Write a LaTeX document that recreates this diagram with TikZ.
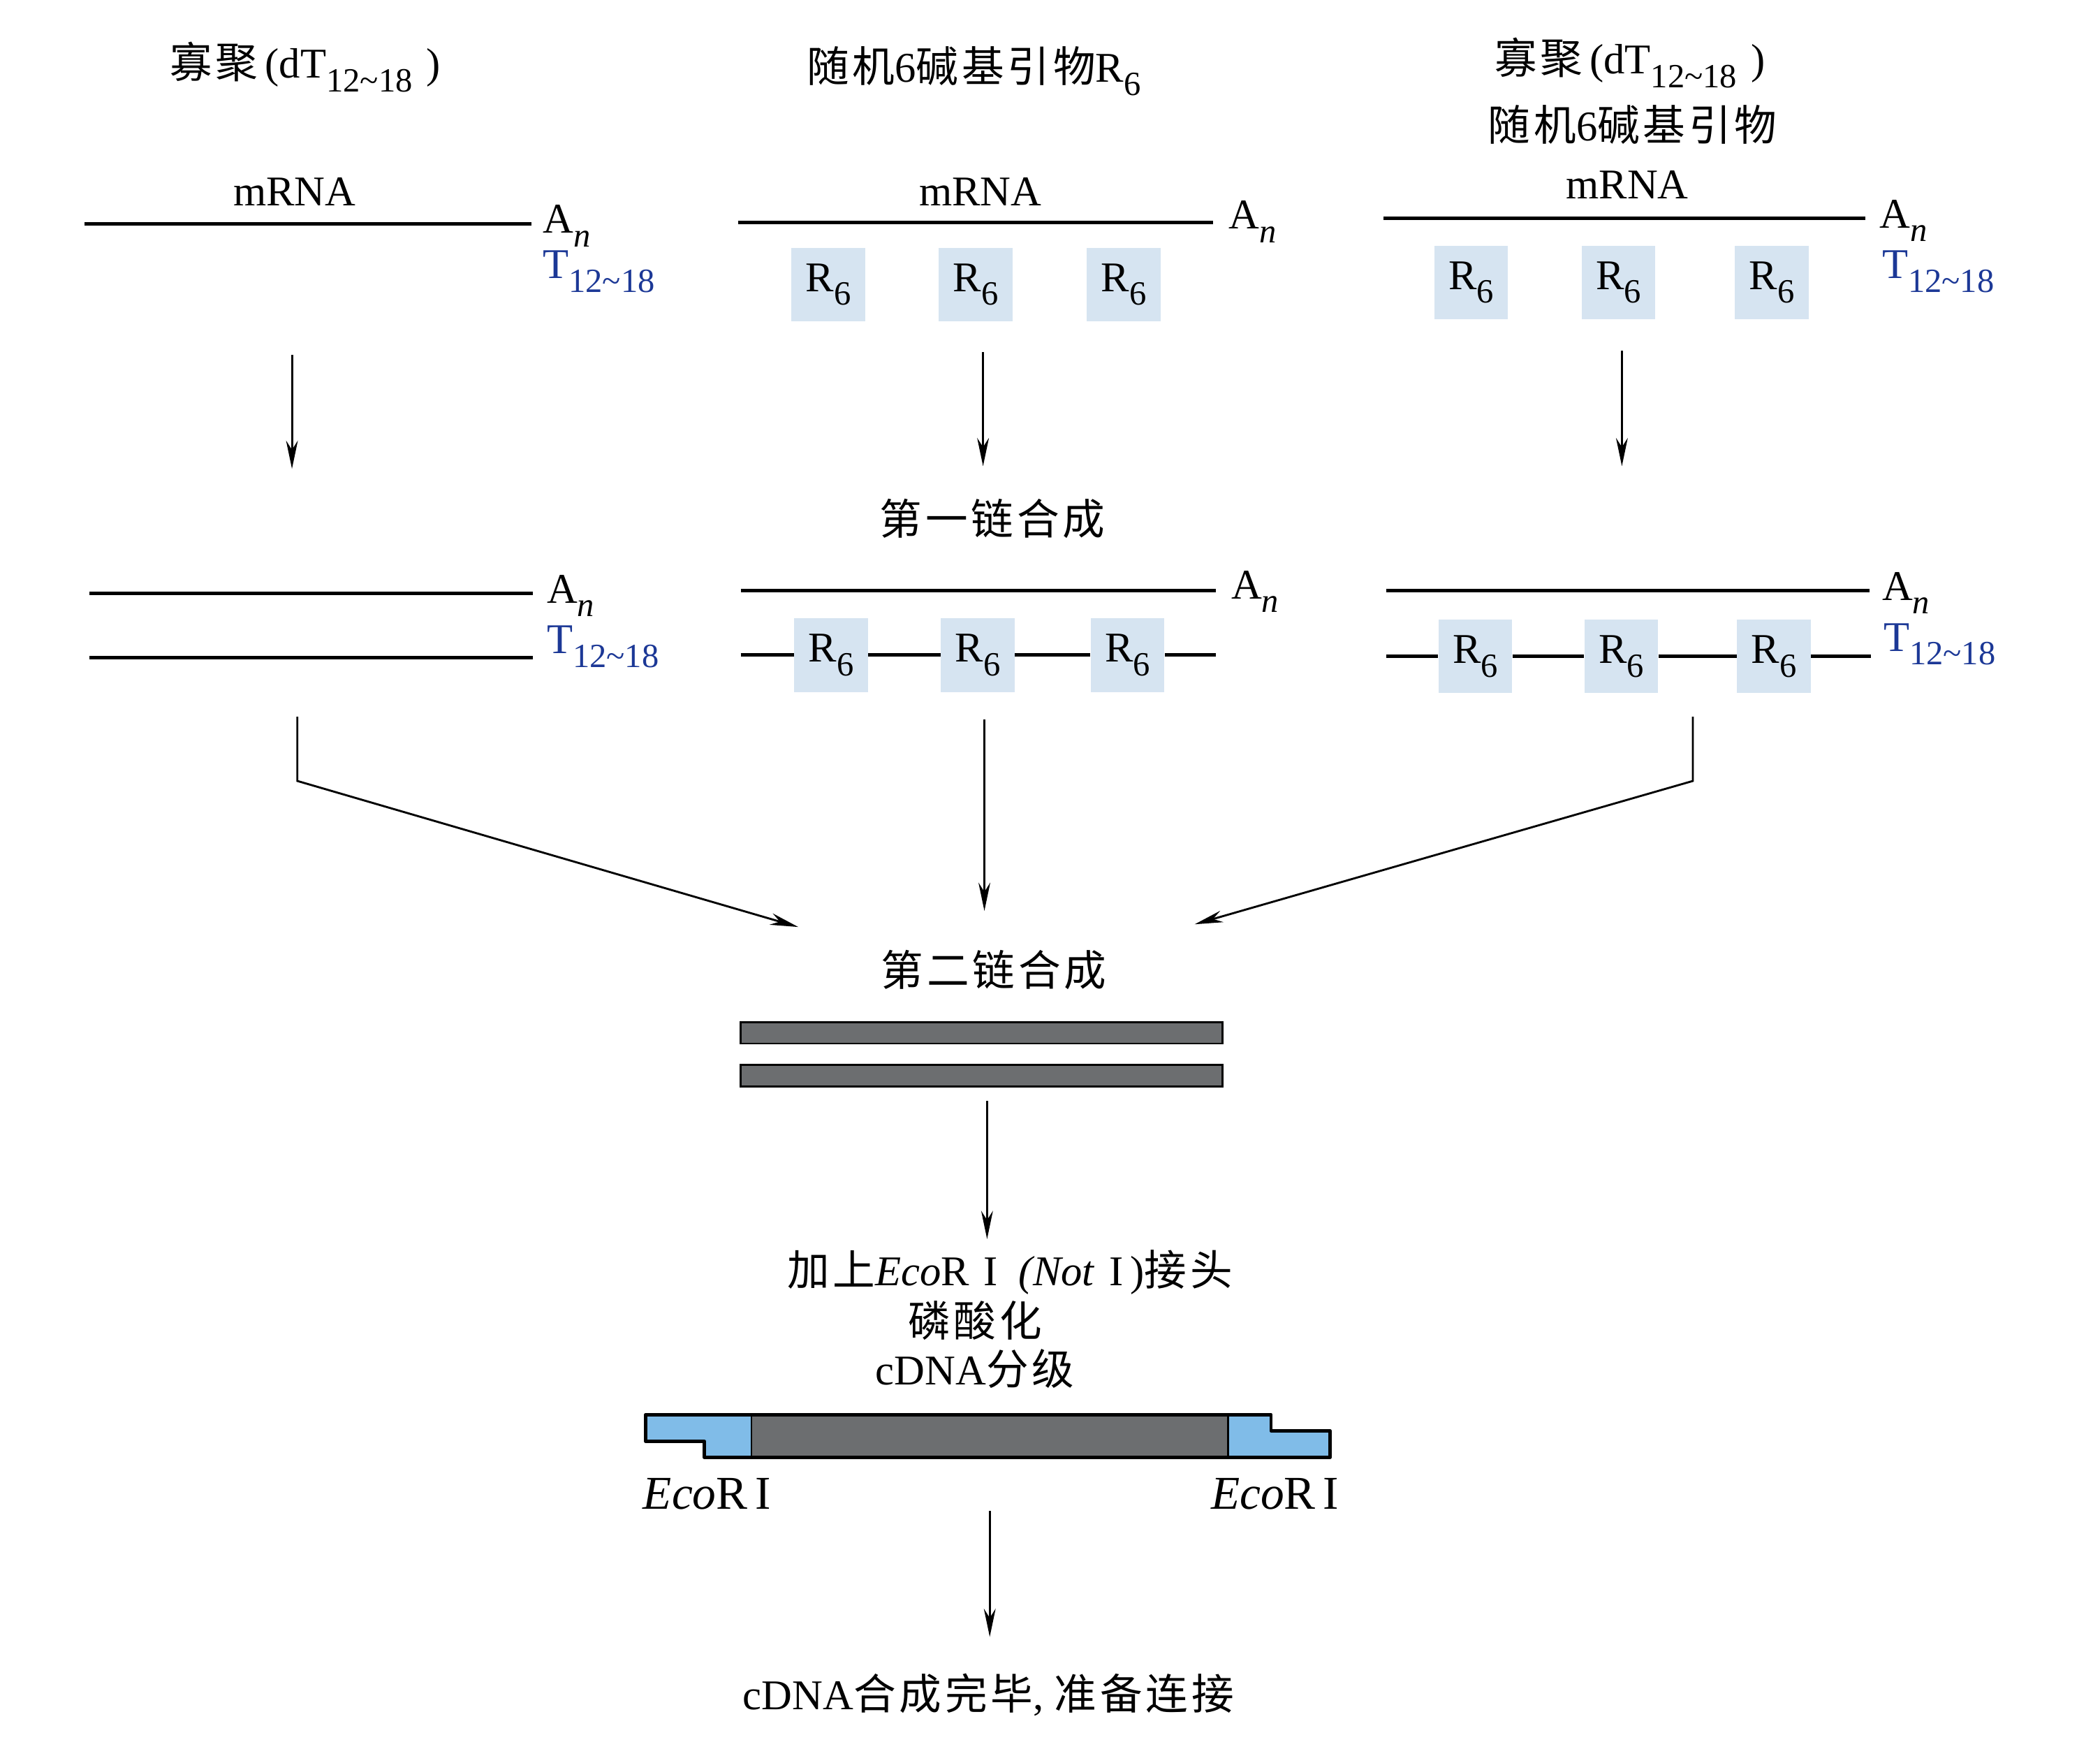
\documentclass[tikz,border=0pt]{standalone}
\usepackage{fontspec}
\setmainfont{Liberation Serif}
\newfontfamily\cjk[Scale=1.0,LetterSpace=8]{Noto Sans CJK SC}
\usetikzlibrary{arrows.meta,positioning}
\definecolor{primerblue}{RGB}{214,228,241}
\definecolor{oligoblue}{RGB}{28,56,150}
\definecolor{duplexgray}{RGB}{108,110,112}
\definecolor{adaptblue}{RGB}{128,188,232}
\newcommand{\lo}[1]{\raisebox{-0.32em}{\scalebox{0.8}{#1}}}
\newcommand{\oligo}{T\lo{12\textasciitilde18}}
\newcommand{\polyA}{A\lo{\textit{n}}}
\newcommand{\ecoR}{\textit{Eco}R\,I}

\begin{document}
\begin{tikzpicture}[x=0.02cm,y=-0.02cm,>=Stealth,
  font=\fontsize{18}{21}\selectfont,
  strand/.style={line width=1.6pt},
  flow/.style={-{Stealth[length=12pt,width=5pt]},line width=0.85pt},
  primer/.style={fill=primerblue,minimum width=1.1cm,minimum height=1.1cm,
    inner sep=0pt,font=\fontsize{18}{21}\selectfont},
  endlbl/.style={anchor=base west,inner sep=0pt,font=\fontsize{18}{21}\selectfont},
  oligolbl/.style={anchor=base west,inner sep=0pt,text=oligoblue,
    font=\fontsize{18}{21}\selectfont},
  duplex/.style={fill=duplexgray,draw=black,line width=0.8pt,
    minimum width=7.2cm,minimum height=0.32cm,inner sep=0pt}]

\useasboundingbox (0,0) rectangle (1568,1316);

%% ── left column: oligo(dT) priming ──────────────────────────────────────
\node (hd1) at (228,50) {{\cjk 寡聚}\,(dT\lo{12\textasciitilde18}\,\,)};
\node (mr1) at (220,143) {mRNA};
\draw[strand] (63,167) -- (397,167);
\node[endlbl] (an1) at (405,174) {\polyA};
\node[oligolbl] (ol1) at (405,208) {\oligo};

\coordinate (c1a) at (218,265);
\coordinate (c1b) at (218,350);
\draw[flow] (c1a) -- (c1b);

\draw[strand] (67,443) -- (398,443);
\draw[strand] (67,491) -- (398,491);
\node[endlbl] (an4) at (408,450) {\polyA};
\node[oligolbl] (ol4) at (408,488) {\oligo};

\coordinate (j1a) at (222,535);
\coordinate (j1b) at (222,583);
\coordinate (j1c) at (596,692);
\draw[flow] (j1a) -- (j1b) -- (j1c);

%% ── middle column: random hexamer priming ───────────────────────────────
\node (hd2) at (727,53) {{\cjk 随机}6{\cjk 碱基引物}R\lo{6}};
\node (mr2) at (732,143) {mRNA};
\draw[strand] (551,166) -- (906,166);
\node[endlbl] (an2) at (917,171) {\polyA};
\foreach \x/\n in {618.5/1,728.5/2,839/3}
  \node[primer] (p2\n) at (\x,212.5) {R\lo{6}};

\coordinate (c2a) at (734,263);
\coordinate (c2b) at (734,348);
\draw[flow] (c2a) -- (c2b);
\node (fs) at (741,387) {{\cjk 第一链合成}};

\draw[strand] (553,441) -- (908,441);
\node[endlbl] (an5) at (919,447) {\polyA};
\foreach \x/\n in {620.5/1,730/2,842/3}
  \node[primer] (q2\n) at (\x,489) {R\lo{6}};
\coordinate (b5l) at (553,489);
\coordinate (b5r) at (908,489);
\draw[strand] (b5l) -- (q21.west) (q21.east) -- (q22.west)
  (q22.east) -- (q23.west) (q23.east) -- (b5r);

\coordinate (c5a) at (735,537);
\coordinate (c5b) at (735,680);
\draw[flow] (c5a) -- (c5b);

%% ── right column: both primers ──────────────────────────────────────────
\node (hd3) at (1217,47) {{\cjk 寡聚}\,(dT\lo{12\textasciitilde18}\,\,)};
\node (hd3b) at (1219,93) {{\cjk 随机}6{\cjk 碱基引物}};
\node (mr3) at (1215,138) {mRNA};
\draw[strand] (1033,163) -- (1393,163);
\node[endlbl] (an3) at (1403,170) {\polyA};
\node[oligolbl] (ol3) at (1405,208) {\oligo};
\foreach \x/\n in {1098.5/1,1208.5/2,1323/3}
  \node[primer] (p3\n) at (\x,211) {R\lo{6}};

\coordinate (c3a) at (1211,262);
\coordinate (c3b) at (1211,348);
\draw[flow] (c3a) -- (c3b);

\draw[strand] (1035,441) -- (1396,441);
\node[endlbl] (an6) at (1405,448) {\polyA};
\node[oligolbl] (ol6) at (1406,486) {\oligo};
\foreach \x/\n in {1101.5/1,1210.5/2,1324.5/3}
  \node[primer] (q3\n) at (\x,490) {R\lo{6}};
\coordinate (b6l) at (1035,490);
\coordinate (b6r) at (1397,490);
\draw[strand] (b6l) -- (q31.west) (q31.east) -- (q32.west)
  (q32.east) -- (q33.west) (q33.east) -- (b6r);

\coordinate (j3a) at (1264,535);
\coordinate (j3b) at (1264,583);
\coordinate (j3c) at (892,690);
\draw[flow] (j3a) -- (j3b) -- (j3c);

%% ── second strand and adaptors ──────────────────────────────────────────
\node (ss) at (742,724) {{\cjk 第二链合成}};
\node[duplex] (ds1) at (733,771) {};
\node[duplex] (ds2) at (733,803) {};

\coordinate (c7a) at (737,822);
\coordinate (c7b) at (737,925);
\draw[flow] (c7a) -- (c7b);

\node (st1) at (754,950)
  {{\cjk 加上}\textit{Eco}R\,\,I\ \ \textit{(Not}\,\,I\,){\cjk 接头}};
\node (st2) at (728,986) {{\cjk 磷酸化}};
\node (st3) at (728,1022) {cDNA{\cjk 分级}};

%% adaptor-ligated cDNA
\fill[duplexgray] (561,1056) rectangle (917,1088);
\fill[adaptblue] (482,1056) -- (561,1056) -- (561,1088) -- (526,1088)
  -- (526,1076) -- (482,1076) -- cycle;
\fill[adaptblue] (917,1056) -- (949,1056) -- (949,1068) -- (993,1068)
  -- (993,1088) -- (917,1088) -- cycle;
\draw[line width=0.8pt] (561,1056) -- (561,1088) (917,1056) -- (917,1088);
\draw[line width=1.4pt,line join=round] (482,1056) -- (949,1056) -- (949,1068)
  -- (993,1068) -- (993,1088) -- (526,1088) -- (526,1076) -- (482,1076) -- cycle;

\node[font=\fontsize{20}{24}\selectfont] (ec1) at (528,1115) {\ecoR};
\node[font=\fontsize{20}{24}\selectfont] (ec2) at (952,1115) {\ecoR};

\coordinate (c8a) at (739,1128);
\coordinate (c8b) at (739,1222);
\draw[flow] (c8a) -- (c8b);

\node (fin) at (738,1265) {cDNA{\cjk 合成完毕}, {\cjk 准备连接}};

\end{tikzpicture}
\end{document}
